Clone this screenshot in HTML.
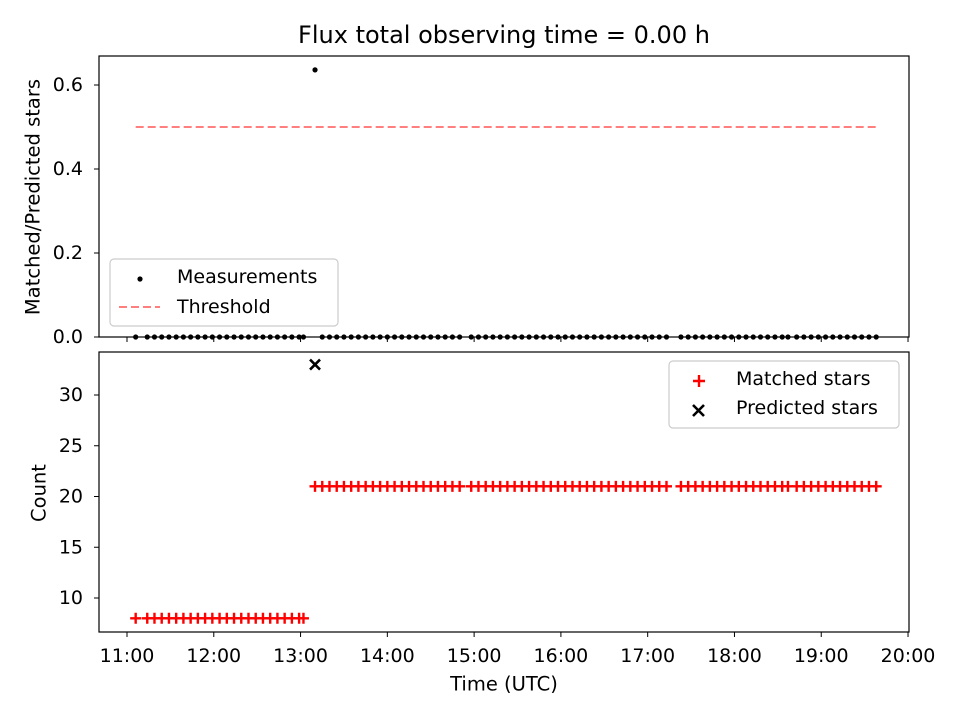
<!DOCTYPE html>
<html><head><meta charset="utf-8"><style>
body{margin:0;background:#fff;}
svg text{font-family:"DejaVu Sans","Liberation Sans",sans-serif;fill:#000;}
</style></head><body>
<svg id="c" width="960" height="720" viewBox="0 0 960 720">
<text x="504" y="35" font-size="24" text-anchor="middle" dominant-baseline="central">Flux total observing time = 0.00 h</text>
</svg>
<script>
// minutes after 11:00 UTC
const times=[6,14,19,24,29,34,39,44,49,54,59,64,69,74,79,84,89,94,99,104,109,114,119,122,
130,135,140,145,150,155,160,165,170,175,180,185,190,195,200,205,210,215,220,225,230,
238,243,248,253,258,263,268,273,278,283,288,293,298,303,308,313,318,323,328,333,338,343,348,353,358,363,368,373,
383,388,393,398,403,408,413,418,423,428,433,438,443,448,453,457,
463,468,473,478,483,488,493,498,
503,508,513,518];
const ratios=times.map((t,i)=>i===24?0.636:0);
const matched=times.map((t,i)=>i<24?8:21);
const predictedTimes=[130];
const predictedValues=[33];
const threshold=0.5;
const xTicks=["11:00","12:00","13:00","14:00","15:00","16:00","17:00","18:00","19:00","20:00"];
const topTicks=[0,0.2,0.4,0.6];
const botTicks=[10,15,20,25,30];

const NS="http://www.w3.org/2000/svg";
const svg=document.getElementById('c');
function el(tag,attrs,parent){const e=document.createElementNS(NS,tag);for(const k in attrs)e.setAttribute(k,attrs[k]);(parent||svg).appendChild(e);return e;}
const L=99,R=909;
const xs=m=>127+(m/60)*86.78;
const yTop=v=>337-v*420;
const yBot=v=>598-(v-10)*10.15;

// Top axes
const gTop=el('g',{});

const thr=el('line',{x1:xs(6),x2:xs(518),y1:yTop(threshold),y2:yTop(threshold),stroke:'#ff7f7f','stroke-width':2,'stroke-dasharray':'8,4'},gTop);

times.forEach((t,i)=>{const c=el('circle',{cx:xs(t),cy:yTop(ratios[i]),r:2.6,fill:'#000'},gTop);
});
const f1=el('rect',{x:L,y:56,width:R-L,height:281,fill:'none',stroke:'#000','stroke-width':1.2},gTop);

topTicks.forEach(v=>{const y=yTop(v);el('line',{x1:L-5,x2:L,y1:y,y2:y,stroke:'#000'},gTop);
const t=el('text',{x:L-16,y:y,'font-size':19,'text-anchor':'end','dominant-baseline':'central'},gTop);t.textContent=v.toFixed(1);
});
xTicks.forEach((s,i)=>{const x=xs(i*60);el('line',{x1:x,x2:x,y1:337,y2:342,stroke:'#000'},gTop);});
const yt1=el('text',{x:33,y:197,'font-size':19.5,'text-anchor':'middle','dominant-baseline':'central',transform:'rotate(-90 33 197)'},gTop);yt1.textContent='Matched/Predicted stars';

// top legend
const lg1=el('g',{},gTop);
el('rect',{x:110,y:259,width:228,height:67,rx:4,fill:'#fff',stroke:'#ccc','stroke-width':1.2},lg1);
el('circle',{cx:140,cy:279,r:2.6,fill:'#000'},lg1);
let t=el('text',{x:177,y:277,'font-size':19,'dominant-baseline':'central'},lg1);t.textContent='Measurements';
el('line',{x1:119,x2:160,y1:307,y2:307,stroke:'#ff7f7f','stroke-width':2,'stroke-dasharray':'8,4'},lg1);
t=el('text',{x:177,y:307,'font-size':19,'dominant-baseline':'central'},lg1);t.textContent='Threshold';

// Bottom axes
const gB=el('g',{});
times.forEach((tm,i)=>{const x=xs(tm),y=yBot(matched[i]);
const p=el('path',{d:`M${x-5.5},${y}H${x+5.5}M${x},${y-5.5}V${y+5.5}`,stroke:'#f00','stroke-width':2.4},gB);
});
predictedTimes.forEach((tm,i)=>{const x=xs(tm),y=yBot(predictedValues[i]);
const p=el('path',{d:`M${x-5},${y-5}L${x+5},${y+5}M${x-5},${y+5}L${x+5},${y-5}`,stroke:'#000','stroke-width':2.6},gB);
});
const f2=el('rect',{x:L,y:352,width:R-L,height:280,fill:'none',stroke:'#000','stroke-width':1.2},gB);

botTicks.forEach(v=>{const y=yBot(v);el('line',{x1:L-5,x2:L,y1:y,y2:y,stroke:'#000'},gB);
const tt=el('text',{x:L-16,y:y,'font-size':19,'text-anchor':'end','dominant-baseline':'central'},gB);tt.textContent=v;
});
xTicks.forEach((s,i)=>{const x=xs(i*60);el('line',{x1:x,x2:x,y1:632,y2:637,stroke:'#000'},gB);
const tt=el('text',{x:x,y:656,'font-size':19,'text-anchor':'middle','dominant-baseline':'central'},gB);tt.textContent=s;
});
const yt2=el('text',{x:39,y:493,'font-size':19.5,'text-anchor':'middle','dominant-baseline':'central',transform:'rotate(-90 39 493)'},gB);yt2.textContent='Count';

const xt=el('text',{x:504,y:684,'font-size':19.5,'text-anchor':'middle','dominant-baseline':'central'},gB);xt.textContent='Time (UTC)';

const lg2=el('g',{},gB);
el('rect',{x:669,y:361,width:230,height:67,rx:4,fill:'#fff',stroke:'#ccc','stroke-width':1.2},lg2);
el('path',{d:'M693,381H705M699,375V387',stroke:'#f00','stroke-width':2.4},lg2);
t=el('text',{x:736,y:379,'font-size':19,'dominant-baseline':'central'},lg2);t.textContent='Matched stars';
el('path',{d:'M693,405L704,416M693,416L704,405',stroke:'#000','stroke-width':2.6},lg2);
t=el('text',{x:736,y:408,'font-size':19,'dominant-baseline':'central'},lg2);t.textContent='Predicted stars';
</script>
</body></html>
